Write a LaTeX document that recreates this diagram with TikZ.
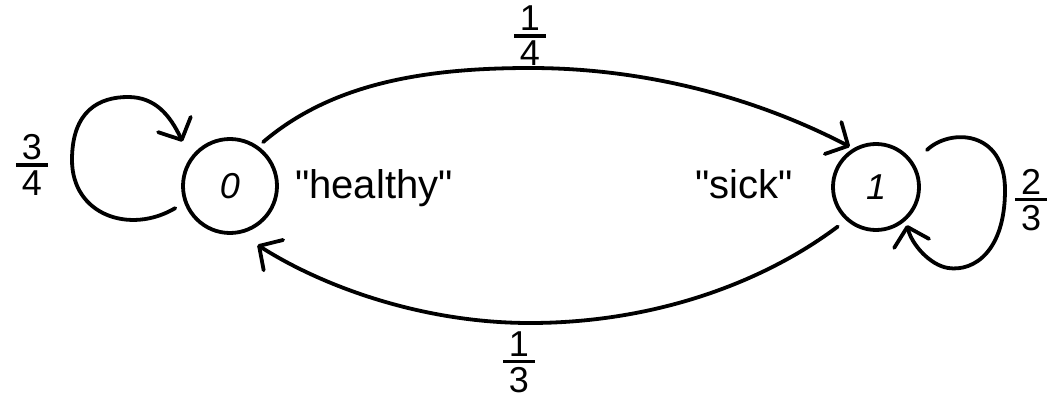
\documentclass[tikz,border=0pt]{standalone}
\usepackage{fontspec}
\setmainfont{Liberation Sans}
\newfontfamily\tagfont{Liberation Sans}
\usetikzlibrary{arrows.meta,calc}
\newcommand\hfr[2]{{\fontsize{36}{40}\selectfont\offinterlineskip
  \vbox{\hbox to 32pt{\hss#1\hss}\kern3.5pt\hrule height 3.8pt\kern3.5pt\hbox to 32pt{\hss#2\hss}}}}
\tikzset{
  ink/.style={line width=3.8pt, line cap=round, line join=round},
  edge/.style={ink, -{Straight Barb[length=17pt,width=36pt,round]}},
  state/.style={ink, circle, draw, inner sep=0pt, font=\fontsize{36}{40}\selectfont\itshape},
  frac/.style={inner sep=0pt, anchor=base},
  tag/.style={inner sep=0pt, anchor=base west, font=\tagfont\fontsize{40}{44}\selectfont}
}
\begin{document}
\begin{tikzpicture}[x=1pt,y=-1pt]
\useasboundingbox[fill=white] (0,0) rectangle (1051,398);
\node[state, minimum size=94pt] (n0) at (230,186) {0};
\node[state, minimum size=86pt] (n1) at (876,187) {1};
\node[tag] (h) at (295,198) {"healthy"};
\node[tag] (s) at (695,198) {"sick"};
% top arc 0 -> 1
\draw[edge] ($(n0)+(53:55pt)$) .. controls (330,85) and (420,68) .. (530,68)
  .. controls (650,68) and (760,100) .. ($(n1)+(123:48pt)$);
% bottom arc 1 -> 0
\draw[edge] ($(n1)+(-134:55pt)$) .. controls (760,285) and (650,323) .. (530,323)
  .. controls (420,323) and (320,285) .. ($(n0)+(-65:65pt)$);
% self loop 0
\draw[edge] ($(n0)+(-158:59pt)$) .. controls (130,235) and (72,215) .. (72,160)
  .. controls (72,110) and (100,97) .. (128,97)
  .. controls (155,97) and (170,115) .. ($(n0)+(137:65pt)$);
% self loop 1
\draw[edge] ($(n1)+(36:63pt)$) .. controls (950,128) and (1005,130) .. (1005,190)
  .. controls (1005,250) and (975,272) .. (948,268)
  .. controls (930,265) and (912,245) .. ($(n1)+(-51:49pt)$);
% labels
\node[frac] (p00) at (32,195) {\hfr{3}{4}};
\node[frac] (p01) at (530,66) {\hfr{1}{4}};
\node[frac] (p10) at (519,392) {\hfr{1}{3}};
\node[frac] (p11) at (1031,230) {\hfr{2}{3}};
\end{tikzpicture}
\end{document}
